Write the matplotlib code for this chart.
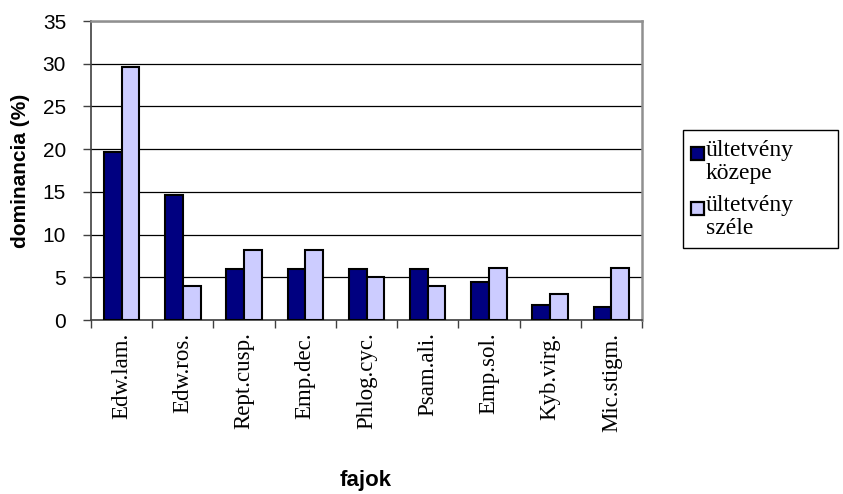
import numpy as np
from matplotlib import pyplot as plt
from matplotlib.patches import Rectangle
from matplotlib.ticker import FixedLocator

# Species dominance (%) in the middle and at the edge of the plantation
species = ['Edw.lam.', 'Edw.ros.', 'Rept.cusp.', 'Emp.dec.', 'Phlog.cyc.',
           'Psam.ali.', 'Emp.sol.', 'Kyb.virg.', 'Mic.stigm.']
middle = [19.7, 14.6, 6.0, 6.0, 6.0, 6.0, 4.4, 1.7, 1.5]
edge = [29.6, 4.0, 8.2, 8.2, 5.0, 4.0, 6.1, 3.0, 6.1]
series_names = ['ültetvény\nközepe', 'ültetvény\nszéle']
colors = ['#000080', '#CCCCFF']

W, H = 843, 494


def fx(px):
    return px / W


def fy(py):
    # pixel rows are counted from the top
    return 1 - py / H


def draw_legend(fig):
    """Boxed legend, marker lined up with the first line of each label"""
    fig.patches.append(Rectangle((fx(683), fy(248)), fx(838) - fx(683),
                                 fy(130) - fy(248), transform=fig.transFigure,
                                 facecolor='white', edgecolor='black',
                                 linewidth=1.0))
    for i, (name, c) in enumerate(zip(series_names, colors)):
        mid = 153 + i * 55
        fig.patches.append(Rectangle((fx(691), fy(mid + 7)), fx(13), 13 / H,
                                     transform=fig.transFigure, facecolor=c,
                                     edgecolor='black', linewidth=1.6))
        fig.text(fx(706), fy(mid - 13), name, ha='left', va='top',
                 fontfamily='Liberation Serif', fontsize=17,
                 linespacing=1.12)


def main():
    fig = plt.figure(figsize=(W / 100, H / 100), dpi=100)
    ax = fig.add_axes([fx(91), fy(320), fx(642) - fx(91), fy(21) - fy(320)])

    x = np.arange(len(species))
    w = 0.29
    ax.bar(x - w / 2, middle, w, color=colors[0], edgecolor='black',
           linewidth=1.5, zorder=3)
    ax.bar(x + w / 2, edge, w, color=colors[1], edgecolor='black',
           linewidth=1.5, zorder=3)

    ax.set_xlim(-0.5, len(species) - 0.5)
    ax.set_ylim(0, 35)
    ax.set_yticks(range(0, 36, 5))
    ax.yaxis.grid(True, color='black', linewidth=0.9, zorder=0)

    # category labels in the centre, tick marks on the boundaries
    ax.set_xticks(x)
    ax.set_xticklabels(species, rotation=90, fontfamily='Liberation Serif',
                       fontsize=16.5)
    ax.tick_params(axis='x', which='major', length=0, pad=9)
    ax.xaxis.set_minor_locator(FixedLocator(np.arange(-0.5, len(species), 1)))
    ax.tick_params(axis='x', which='minor', length=6, width=1, color='#404040')
    ax.tick_params(axis='y', length=6, width=1, color='#404040',
                   labelsize=15, pad=12)
    for lbl in ax.get_yticklabels():
        lbl.set_fontfamily('Liberation Sans')

    for side in ['top', 'right']:
        ax.spines[side].set_color('#909090')
        ax.spines[side].set_linewidth(1.8)
    for side in ['left', 'bottom']:
        ax.spines[side].set_color('#404040')
        ax.spines[side].set_linewidth(1.2)

    ax.set_ylabel('dominancia (%)', fontfamily='Liberation Sans',
                  fontweight='bold', fontsize=15)
    ax.yaxis.set_label_coords((30 - 91) / 551, 0.5)
    fig.text(fx(366), fy(480), 'fajok', fontfamily='Liberation Sans',
             fontweight='bold', fontsize=16, ha='center', va='center')

    draw_legend(fig)

    fig.savefig('out.png', dpi=100)


if __name__ == '__main__':
    main()
